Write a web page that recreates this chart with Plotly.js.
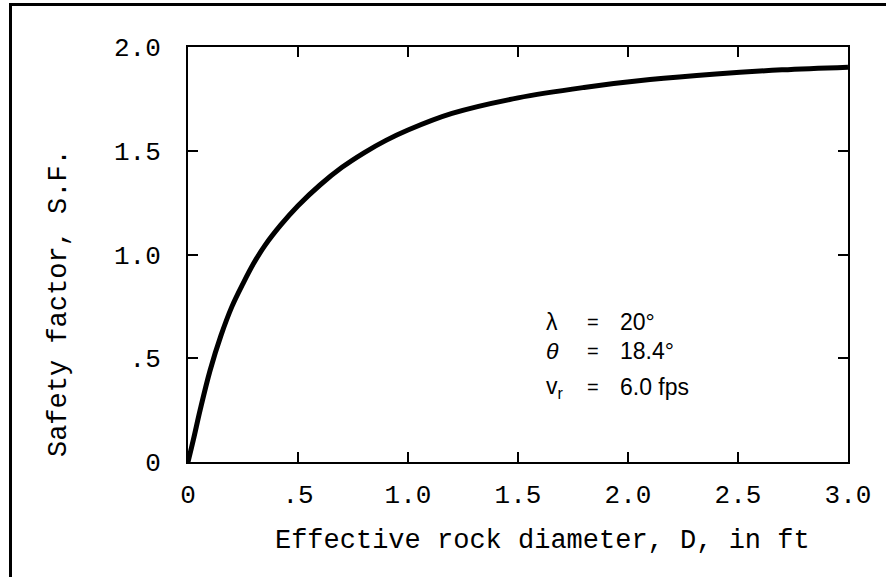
<!DOCTYPE html>
<html>
<head>
<meta charset="utf-8">
<script src="https://cdn.plot.ly/plotly-3.0.1.min.js"></script>
<style>
  html, body { margin: 0; padding: 0; background: #ffffff; }
  #wrap { position: relative; width: 886px; height: 577px; overflow: hidden; }
  #frame { position: absolute; left: 9px; top: 3px; width: 900px; height: 600px;
           border-left: 3px solid #000; border-top: 3px solid #000; box-sizing: border-box; }
  #chart { position: absolute; left: 0; top: 0; width: 886px; height: 577px; }
</style>
</head>
<body>
<div id="wrap">
  <div id="frame"></div>
  <div id="chart"></div>
</div>
<script>
// Effective rock diameter D (ft) and safety factor S.F.
const diameterFt = [0, 0.025, 0.055, 0.10, 0.15, 0.20, 0.25, 0.30, 0.35, 0.42, 0.50, 0.60, 0.70, 0.80, 0.90, 1.0, 1.2, 1.5, 1.8, 2.1, 2.4, 2.7, 3.0];
const safetyFactor = [0, 0.11, 0.25, 0.44, 0.61, 0.75, 0.86, 0.96, 1.044, 1.14, 1.235, 1.335, 1.42, 1.49, 1.55, 1.60, 1.68, 1.755, 1.805, 1.843, 1.87, 1.89, 1.903];

const xTickVals = [0, 0.5, 1.0, 1.5, 2.0, 2.5, 3.0];
const xTickText = ['0', '.5', '1.0', '1.5', '2.0', '2.5', '3.0'];
const yTickVals = [0, 0.5, 1.0, 1.5, 2.0];
const yTickText = ['0', '.5', '1.0', '1.5', '2.0'];

const paramSymbols = ['λ', '<i>θ</i>', 'v<sub>r</sub>'];
const paramValues = ['20°', '18.4°', '6.0 fps'];

const monoFont = '"Courier New", "Liberation Mono", "DejaVu Sans Mono", monospace';
const sansFont = 'Arial, "Liberation Sans", Helvetica, sans-serif';

const trace = {
  x: diameterFt,
  y: safetyFactor,
  type: 'scatter',
  mode: 'lines',
  line: { color: '#000', width: 5, shape: 'spline', smoothing: 1 },
  hoverinfo: 'x+y'
};

// parameter block (text annotations)
const rowY = [0.675, 0.535, 0.36];
const annotations = [];
paramSymbols.forEach((s, i) => {
  annotations.push({ x: 1.62, y: rowY[i], xref: 'x', yref: 'y', text: s, showarrow: false,
    xanchor: 'left', yanchor: 'middle', font: { family: sansFont, size: 23, color: '#000' } });
  annotations.push({ x: 1.84, y: rowY[i], xref: 'x', yref: 'y', text: '=', showarrow: false,
    xanchor: 'center', yanchor: 'middle', font: { family: sansFont, size: 20, color: '#000' } });
  annotations.push({ x: 1.955, y: rowY[i], xref: 'x', yref: 'y', text: paramValues[i], showarrow: false,
    xanchor: 'left', yanchor: 'middle', font: { family: sansFont, size: 23, color: '#000' } });
});

const NB = '\u00a0';
const ZW = '\u200B';
const layout = {
  width: 886, height: 577,
  margin: { l: 188, r: 38, t: 47, b: 115 },
  paper_bgcolor: 'rgba(0,0,0,0)',
  plot_bgcolor: 'rgba(0,0,0,0)',
  showlegend: false,
  font: { family: monoFont, size: 25, color: '#000' },
  xaxis: {
    range: [0, 3.0],
    tickvals: xTickVals, ticktext: xTickText,
    ticks: 'inside', ticklen: 10, tickwidth: 2, tickcolor: '#000',
    showline: true, linecolor: '#000', linewidth: 2, mirror: 'ticks',
    showgrid: false, zeroline: false,
    ticklabelstandoff: 8,
    tickfont: { family: monoFont, size: 26, color: '#000' },
    title: { text: ZW + NB + NB + NB + 'Effective rock diameter, D, in ft', standoff: 19,
             font: { family: monoFont, size: 27, color: '#000' } }
  },
  yaxis: {
    range: [0, 2.0],
    tickvals: yTickVals, ticktext: yTickText,
    ticks: 'inside', ticklen: 10, tickwidth: 2, tickcolor: '#000',
    showline: true, linecolor: '#000', linewidth: 2, mirror: 'ticks',
    showgrid: false, zeroline: false,
    ticklabelstandoff: 20,
    tickfont: { family: monoFont, size: 26, color: '#000' },
    title: { text: 'Safety factor, S.F.' + NB + NB + NB + NB + NB + NB + ZW, standoff: 40,
             font: { family: monoFont, size: 27, color: '#000' } }
  },
  annotations: annotations
};

Plotly.newPlot('chart', [trace], layout, { displayModeBar: false, staticPlot: true });
</script>
</body>
</html>
